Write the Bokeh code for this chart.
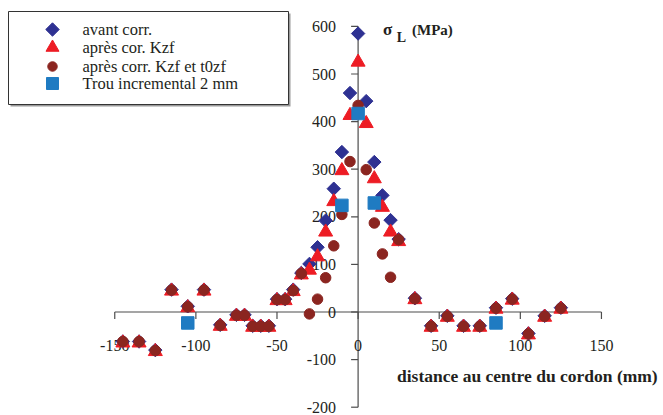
import math
from bokeh.plotting import figure
from bokeh.models import Range1d
from bokeh.core.properties import value
from bokeh.embed import file_html
from bokeh.resources import INLINE

# ---- data ----
distance = [-145, -135, -125, -115, -105, -95, -85, -75, -70, -65, -60, -55,
            -50, -45, -40, -35, -30, -25, -20, -15, -10, -5, 0, 5, 10, 15,
            20, 25, 35, 45, 55, 65, 75, 85, 95, 105, 115, 125]
avant_corr = [-62, -62, -80, 47, 12, 47, -27, -6, -6, -29, -29, -29,
              27, 27, 47, 82, 101, 136, 192, 259, 336, 460, 585, 443, 315, 245,
              193, 153, 29, -29, -8, -29, -29, 9, 28, -45, -8, 9]
apres_kzf = [-65, -65, -83, 44, 9, 44, -30, -9, -9, -32, -32, -32,
             24, 24, 43, 78, 88, 116, 168, 232, 297, 413, 525, 396, 280, 220,
             168, 148, 26, -32, -11, -32, -32, 6, 25, -48, -11, 6]
apres_kzf_t0 = [-62, -62, -81, 46, 11, 46, -28, -7, -7, -30, -30, -30,
                26, 26, 45, 81, -4, 27, 72, 139, 205, 316, 434, 299, 187, 122,
                73, 152, 28, -30, -9, -30, -30, 8, 27, -46, -9, 8]
trou_x = [-105, -10, 0, 10, 85]
trou_y = [-23, 224, 417, 229, -23]

series_labels = ["avant corr.", "après cor. Kzf", "après corr. Kzf et t0zf",
                 "Trou incremental 2 mm"]

x_ticks = [-150, -100, -50, 0, 50, 100, 150]
y_ticks = [-200, -100, 0, 100, 200, 300, 400, 500, 600]
x_labels = ["-150", "-100", "-50", "0", "50", "100", "150"]
y_labels = ["-200", "-100", "0", "100", "200", "300", "400", "500", "600"]

# ---- layout (pixel geometry of the frame) ----
W, H = 663, 415
PX_X = 1.6223          # px per mm
PX_Y = 0.476           # px per MPa
X0 = 357.6             # px of x=0 from left edge of figure
Y0 = 311.5             # px of y=0 from top edge of figure

x_start = -X0 / PX_X
x_end = (W - X0) / PX_X
y_top = Y0 / PX_Y
y_bot = (Y0 - H) / PX_Y

def dx(px):   # figure px (from left) -> data x
    return x_start + px / PX_X

def dy(py):   # figure px (from top) -> data y
    return y_top - py / PX_Y

SERIF = "Liberation Serif"
AXIS_COLOR = "#4d4d4d"
TEXT_COLOR = "#231f20"
C_AVANT, C_KZF, C_T0, C_TROU = "#2E3192", "#ED1C24", "#8B2520", "#1F7BC2"

p = figure(width=W, height=H, x_range=Range1d(x_start, x_end),
           y_range=Range1d(y_bot, y_top), output_backend="svg",
           toolbar_location=None, x_axis_type=None, y_axis_type=None,
           min_border=0, min_border_left=0, min_border_right=0,
           min_border_top=0, min_border_bottom=0)
p.outline_line_color = None
p.background_fill_color = "white"
p.border_fill_color = "white"

# ---- crossing axes drawn at the origin ----
p.segment(x0=[x_ticks[0]], y0=[0], x1=[x_ticks[-1]], y1=[0],
          line_color=AXIS_COLOR, line_width=1.2)
p.segment(x0=[0], y0=[y_ticks[0]], x1=[0], y1=[y_ticks[-1]],
          line_color=AXIS_COLOR, line_width=1.2)
tick_len_y = 7 / PX_Y
tick_len_x = 7 / PX_X
p.segment(x0=x_ticks, y0=[0] * len(x_ticks), x1=x_ticks,
          y1=[-tick_len_y] * len(x_ticks), line_color=AXIS_COLOR, line_width=1.2)
p.segment(x0=[0] * len(y_ticks), y0=y_ticks, x1=[-tick_len_x] * len(y_ticks),
          y1=y_ticks, line_color=AXIS_COLOR, line_width=1.2)

p.text(x=x_ticks, y=[0] * len(x_ticks), text=x_labels, y_offset=33,
       text_align="center", text_baseline="middle",
       text_font=value(SERIF), text_font_size="16px", text_color=TEXT_COLOR)
p.text(x=[0] * len(y_ticks), y=y_ticks, text=y_labels, x_offset=-22, y_offset=0,
       text_align="right", text_baseline="middle",
       text_font=value(SERIF), text_font_size="16px", text_color=TEXT_COLOR)

# ---- series ----
p.scatter(distance, avant_corr, marker="square", angle=math.pi / 4,
          size=9.5, fill_color=C_AVANT, line_color=C_AVANT)
p.scatter(distance, apres_kzf, marker="triangle", size=14,
          fill_color=C_KZF, line_color=C_KZF)
p.scatter(distance, apres_kzf_t0, marker="circle", size=10.5,
          fill_color=C_T0, line_color=C_T0)
p.scatter(trou_x, trou_y, marker="square", size=12.5,
          fill_color=C_TROU, line_color=C_TROU)

# ---- axis titles ----
p.text(x=[dx(387)], y=[dy(29)], text=["σ"], text_align="center",
       text_baseline="middle", text_font=value(SERIF), text_font_size="17px",
       text_font_style="bold", text_color=TEXT_COLOR)
p.text(x=[dx(401)], y=[dy(37)], text=["L"], text_align="center",
       text_baseline="middle", text_font=value(SERIF), text_font_size="14px",
       text_font_style="bold", text_color=TEXT_COLOR)
p.text(x=[dx(411.5)], y=[dy(29)], text=["(MPa)"], text_align="left",
       text_baseline="middle", text_font=value(SERIF), text_font_size="15px",
       text_font_style="bold", text_color=TEXT_COLOR)
p.text(x=[dx(396.5)], y=[dy(375)], text=["distance au centre du cordon (mm)"],
       text_align="left", text_baseline="middle", text_font=value(SERIF),
       text_font_size="17.5px", text_font_style="bold", text_color=TEXT_COLOR)

# ---- legend box (drawn) ----
p.quad(left=[dx(10)], right=[dx(290)], top=[dy(13)], bottom=[dy(106)],
       fill_color="#9a9a9a", line_color=None)
p.quad(left=[dx(8)], right=[dx(288)], top=[dy(11)], bottom=[dy(104)],
       fill_color="white", line_color="#333333", line_width=1)
rows = [29, 47, 66, 83]
mx = dx(52)
p.scatter([mx], [dy(rows[0])], marker="square", angle=math.pi / 4, size=9.5,
          fill_color=C_AVANT, line_color=C_AVANT)
p.scatter([mx], [dy(rows[1])], marker="triangle", size=13,
          fill_color=C_KZF, line_color=C_KZF)
p.scatter([mx], [dy(rows[2])], marker="circle", size=9.5,
          fill_color=C_T0, line_color=C_T0)
p.scatter([mx], [dy(rows[3])], marker="square", size=12,
          fill_color=C_TROU, line_color=C_TROU)
p.text(x=[dx(82)] * 4, y=[dy(r) for r in rows], text=series_labels,
       text_align="left", text_baseline="middle", text_font=value(SERIF),
       text_font_size="16.5px", text_color=TEXT_COLOR)

open("out.html", "w").write(file_html(p, INLINE))
